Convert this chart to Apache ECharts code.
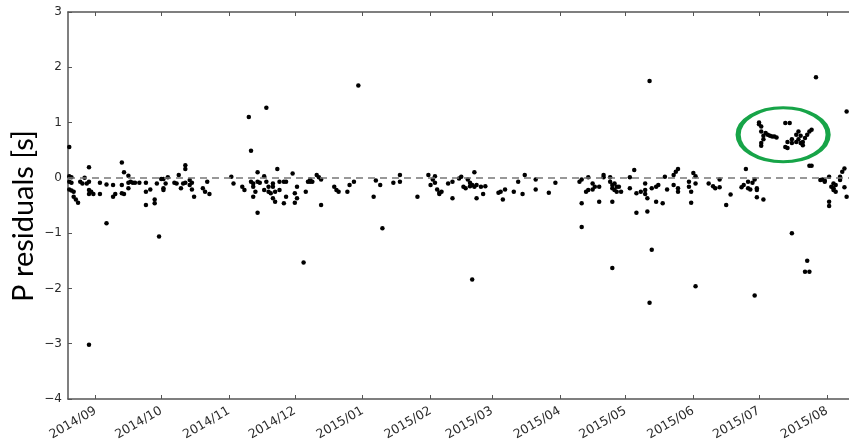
<!DOCTYPE html>
<html><head><meta charset="utf-8">
<script src="https://cdn.jsdelivr.net/npm/echarts@6/dist/echarts.min.js"></script>
<style>html,body{margin:0;padding:0;background:#fff}#c{width:849px;height:444px}</style>
</head><body><div id="c"></div>
<script>
// ---- data ----
const residualPoints = [
['2014-08-20',0.56],['2014-08-20',0.03],['2014-08-21',0.01],['2014-08-20',-0.07],['2014-08-21',-0.09],['2014-08-20',-0.21],['2014-08-21',-0.23],['2014-08-22',-0.25],['2014-08-22',-0.34],['2014-08-23',-0.39],['2014-08-24',-0.45],['2014-08-25',-0.07],['2014-08-27',0.00],['2014-08-26',-0.10],['2014-08-29',0.19],['2014-08-28',-0.10],['2014-08-29',-0.07],['2014-08-29',-0.22],['2014-08-30',-0.25],['2014-08-29',-0.29],['2014-08-31',-0.29],['2014-08-29',-3.02],
['2014-09-03',-0.29],['2014-09-03',-0.09],['2014-09-06',-0.12],['2014-09-06',-0.82],['2014-09-09',-0.13],['2014-09-09',-0.34],['2014-09-10',-0.29],['2014-09-13',-0.13],['2014-09-13',-0.28],['2014-09-13',0.28],['2014-09-14',0.10],['2014-09-14',-0.29],['2014-09-16',0.04],['2014-09-16',-0.09],['2014-09-17',-0.07],['2014-09-18',-0.09],['2014-09-19',-0.09],['2014-09-16',-0.19],['2014-09-21',-0.09],['2014-09-24',-0.09],['2014-09-24',-0.25],['2014-09-26',-0.21],['2014-09-24',-0.49],['2014-09-28',-0.39],['2014-09-28',-0.46],['2014-09-29',-0.10],['2014-09-30',-1.06],
['2014-10-01',-0.02],['2014-10-02',-0.02],['2014-10-02',-0.22],['2014-10-02',-0.19],['2014-10-03',-0.10],['2014-10-04',0.01],['2014-10-07',-0.09],['2014-10-08',-0.10],['2014-10-09',0.05],['2014-10-10',-0.19],['2014-10-11',-0.10],['2014-10-12',-0.09],['2014-10-12',0.23],['2014-10-12',0.16],['2014-10-14',-0.13],['2014-10-14',-0.04],['2014-10-15',-0.09],['2014-10-15',-0.21],['2014-10-16',-0.34],
['2014-10-20',-0.19],['2014-10-21',-0.25],['2014-10-23',-0.29],['2014-10-22',-0.07],
['2014-11-02',0.02],['2014-11-03',-0.10],['2014-11-07',-0.16],['2014-11-08',-0.22],['2014-11-10',1.10],['2014-11-11',0.49],['2014-11-11',-0.07],['2014-11-12',-0.10],['2014-11-12',-0.16],['2014-11-13',-0.25],['2014-11-12',-0.34],['2014-11-14',0.10],['2014-11-14',-0.07],['2014-11-15',-0.09],['2014-11-14',-0.63],['2014-11-17',0.03],['2014-11-18',-0.07],['2014-11-17',-0.22],['2014-11-19',-0.25],['2014-11-19',-0.16],['2014-11-18',1.27],['2014-11-20',-0.28],['2014-11-21',-0.10],['2014-11-21',-0.37],['2014-11-22',-0.43],['2014-11-21',-0.16],['2014-11-22',-0.25],['2014-11-23',0.16],['2014-11-24',-0.07],['2014-11-24',-0.22],['2014-11-26',-0.07],['2014-11-27',-0.07],['2014-11-27',-0.34],['2014-11-26',-0.46],['2014-11-30',0.08],
['2014-12-01',-0.28],['2014-12-01',-0.45],['2014-12-02',-0.37],['2014-12-02',-0.16],['2014-12-06',-0.25],['2014-12-07',-0.07],['2014-12-08',-0.07],['2014-12-08',-0.03],['2014-12-09',-0.07],['2014-12-05',-1.53],['2014-12-11',0.05],['2014-12-12',0.01],['2014-12-13',-0.03],['2014-12-13',-0.49],['2014-12-19',-0.16],['2014-12-20',-0.22],['2014-12-21',-0.25],['2014-12-25',-0.25],['2014-12-26',-0.13],['2014-12-28',-0.07],['2014-12-30',1.67],
['2015-01-06',-0.34],['2015-01-07',-0.05],['2015-01-09',-0.13],['2015-01-10',-0.91],['2015-01-15',-0.09],['2015-01-18',0.05],['2015-01-18',-0.07],['2015-01-26',-0.34],['2015-01-31',0.05],
['2015-02-02',-0.03],['2015-02-03',0.03],['2015-02-01',-0.13],['2015-02-03',-0.09],['2015-02-04',-0.21],['2015-02-05',-0.27],['2015-02-05',-0.29],['2015-02-06',-0.25],['2015-02-09',-0.10],['2015-02-11',-0.07],['2015-02-11',-0.37],['2015-02-14',-0.01],['2015-02-15',0.02],['2015-02-16',-0.16],['2015-02-17',-0.19],['2015-02-18',-0.03],['2015-02-19',-0.09],['2015-02-19',-0.15],['2015-02-20',-0.13],['2015-02-21',-0.16],['2015-02-21',0.10],['2015-02-22',-0.13],['2015-02-22',-0.37],['2015-02-24',-0.16],['2015-02-25',-0.29],['2015-02-26',-0.15],['2015-02-20',-1.84],
['2015-03-04',-0.27],['2015-03-05',-0.25],['2015-03-06',-0.39],['2015-03-07',-0.21],['2015-03-11',-0.25],['2015-03-13',-0.07],['2015-03-15',-0.29],['2015-03-16',0.05],['2015-03-21',-0.03],['2015-03-21',-0.21],['2015-03-27',-0.27],['2015-03-30',-0.09],
['2015-04-10',-0.07],['2015-04-11',-0.03],['2015-04-11',-0.46],['2015-04-11',-0.89],['2015-04-13',-0.25],['2015-04-14',0.01],['2015-04-14',-0.22],['2015-04-16',-0.21],['2015-04-16',-0.10],['2015-04-17',-0.16],['2015-04-19',-0.43],['2015-04-19',-0.16],['2015-04-21',0.01],['2015-04-21',0.05],['2015-04-24',0.01],['2015-04-24',-0.07],['2015-04-25',-0.13],['2015-04-25',-0.19],['2015-04-26',-0.10],['2015-04-26',-0.22],['2015-04-27',-0.16],['2015-04-27',-0.25],['2015-04-28',-0.16],['2015-04-29',-0.25],['2015-04-25',-0.43],['2015-04-25',-1.63],
['2015-05-03',-0.19],['2015-05-03',0.01],['2015-05-05',0.14],['2015-05-06',-0.63],['2015-05-06',-0.28],['2015-05-08',-0.25],['2015-05-10',-0.10],['2015-05-10',-0.22],['2015-05-10',-0.29],['2015-05-11',-0.37],['2015-05-11',-0.61],['2015-05-12',1.75],['2015-05-12',-2.26],['2015-05-13',-1.30],['2015-05-13',-0.19],['2015-05-15',-0.43],['2015-05-15',-0.16],['2015-05-16',-0.13],['2015-05-18',-0.46],['2015-05-19',0.02],['2015-05-20',-0.21],['2015-05-23',-0.13],['2015-05-23',0.05],['2015-05-24',0.11],['2015-05-25',0.16],['2015-05-25',-0.19],['2015-05-25',-0.25],['2015-05-30',-0.07],['2015-05-30',-0.16],['2015-05-31',-0.25],['2015-05-31',-0.45],
['2015-06-01',0.09],['2015-06-02',0.03],['2015-06-02',-0.10],['2015-06-02',-1.96],['2015-06-08',-0.10],['2015-06-10',-0.15],['2015-06-11',-0.19],['2015-06-13',-0.03],['2015-06-13',-0.17],['2015-06-18',-0.30],['2015-06-16',-0.49],['2015-06-23',-0.17],['2015-06-24',-0.13],['2015-06-25',0.16],['2015-06-26',-0.07],['2015-06-26',-0.19],['2015-06-27',-0.21],['2015-06-28',-0.09],['2015-06-29',-0.03],['2015-06-30',-0.19],['2015-06-30',-0.22],['2015-06-30',-0.35],['2015-07-03',-0.39],['2015-06-29',-2.13],
['2015-07-01',1.00],['2015-07-01',0.97],['2015-07-02',0.93],['2015-07-02',0.84],['2015-07-03',0.76],['2015-07-03',0.70],['2015-07-02',0.63],['2015-07-02',0.58],['2015-07-04',0.81],['2015-07-05',0.78],['2015-07-06',0.76],['2015-07-07',0.75],['2015-07-08',0.75],['2015-07-09',0.73],['2015-07-13',0.99],['2015-07-15',0.99],['2015-07-14',0.65],['2015-07-13',0.56],['2015-07-14',0.54],['2015-07-16',0.70],['2015-07-16',0.63],['2015-07-18',0.78],['2015-07-18',0.65],['2015-07-19',0.84],['2015-07-19',0.70],['2015-07-20',0.76],['2015-07-20',0.63],['2015-07-21',0.65],['2015-07-21',0.59],['2015-07-22',0.72],['2015-07-23',0.78],['2015-07-24',0.84],['2015-07-25',0.87],
['2015-07-27',1.82],['2015-07-24',0.22],['2015-07-25',0.22],['2015-07-16',-1.00],['2015-07-23',-1.50],['2015-07-22',-1.70],['2015-07-24',-1.70],['2015-07-29',-0.04],['2015-07-30',-0.03],['2015-07-31',-0.05],['2015-07-31',-0.07],
['2015-08-02',0.02],['2015-08-03',-0.16],['2015-08-04',-0.19],['2015-08-04',-0.10],['2015-08-04',-0.22],['2015-08-05',-0.25],['2015-08-05',-0.13],['2015-08-07',-0.04],['2015-08-07',0.02],['2015-08-08',0.11],['2015-08-09',0.17],['2015-08-09',-0.17],['2015-08-02',-0.43],['2015-08-02',-0.51],['2015-08-10',-0.34],['2015-08-10',1.20]
];
const monthTicks = ['2014-09-01','2014-10-01','2014-11-01','2014-12-01','2015-01-01','2015-02-01','2015-03-01','2015-04-01','2015-05-01','2015-06-01','2015-07-01','2015-08-01'];
const monthLabels = ['2014/09','2014/10','2014/11','2014/12','2015/01','2015/02','2015/03','2015/04','2015/05','2015/06','2015/07','2015/08'];
const xRange = ['2014-08-19 10:00','2015-08-11 02:00'];
const yRange = [-4, 3];
const yTicks = [-4, -3, -2, -1, 0, 1, 2, 3];
const yAxisTitle = 'P residuals [s]';
const highlight = [['2015-07-12', 0.78]];

// ---- helpers ----
function ts(s){
  const m = s.match(/(\d+)-(\d+)-(\d+)(?:\s+(\d+):(\d+))?/);
  return Date.UTC(+m[1], +m[2]-1, +m[3], m[4]?+m[4]:0, m[5]?+m[5]:0);
}
const tickTs = monthTicks.map(ts);
const labelOf = {}; tickTs.forEach((t,i)=>labelOf[t]=monthLabels[i]);

const axisColor = '#555';
const chart = echarts.init(document.getElementById('c'), null, {renderer:'canvas'});
const xBase = {
  type:'value', min:ts(xRange[0]), max:ts(xRange[1]),
  axisLine:{show:true, onZero:false, lineStyle:{color:axisColor, width:1.5}},
  axisTick:{show:true, inside:true, length:4, customValues:tickTs, lineStyle:{color:axisColor}},
  splitLine:{show:false}
};
chart.setOption({
  animation:false,
  backgroundColor:'#fff',
  grid:{left:68, right:0, top:12, bottom:45, containLabel:false},
  xAxis:[Object.assign({}, xBase, {
    position:'bottom',
    axisLabel:{show:true, customValues:tickTs, rotate:30, margin:11, fontSize:12.5, color:'#2a2a2a', fontFamily:'DejaVu Sans',
      formatter:(v)=>labelOf[v] || ''}
  }), Object.assign({}, xBase, {
    position:'top', axisLabel:{show:false}
  })],
  yAxis:{
    type:'value', min:yRange[0], max:yRange[1], interval:1,
    axisLine:{show:true, onZero:false, lineStyle:{color:axisColor, width:1.5}},
    axisTick:{show:true, inside:true, length:4, customValues:yTicks, lineStyle:{color:axisColor}},
    axisLabel:{margin:6, fontSize:12, color:'#2a2a2a', fontFamily:'DejaVu Sans', customValues:yTicks,
      formatter:(v)=>String(v).replace('-','\u2212')},
    splitLine:{show:false}
  },
  graphic:[{
    type:'text', x:24, y:216, rotation:Math.PI/2,
    style:{text:yAxisTitle, font:'29px Lato', fill:'#000', align:'center', verticalAlign:'middle'}
  }],
  series:[{
    type:'scatter', xAxisIndex:0,
    data:residualPoints.map(p=>[ts(p[0]), p[1]]),
    symbol:'circle', symbolSize:4.5,
    itemStyle:{color:'#000', opacity:1},
    silent:true,
    markLine:{
      silent:true, symbol:['none','none'], label:{show:false},
      lineStyle:{type:[7,5], color:'#777', width:1.5, opacity:1},
      data:[{yAxis:0}]
    }
  },{
    type:'scatter', xAxisIndex:0,
    data:highlight.map(p=>[ts(p[0]), p[1]]),
    symbol:'path://M0,50A50,50,0,1,1,100,50A50,50,0,1,1,0,50Z',
    symbolSize:[90,54],
    itemStyle:{color:'rgba(0,0,0,0)', borderColor:'#17a448', borderWidth:4, opacity:1},
    silent:true, z:5
  }]
});
</script></body></html>
